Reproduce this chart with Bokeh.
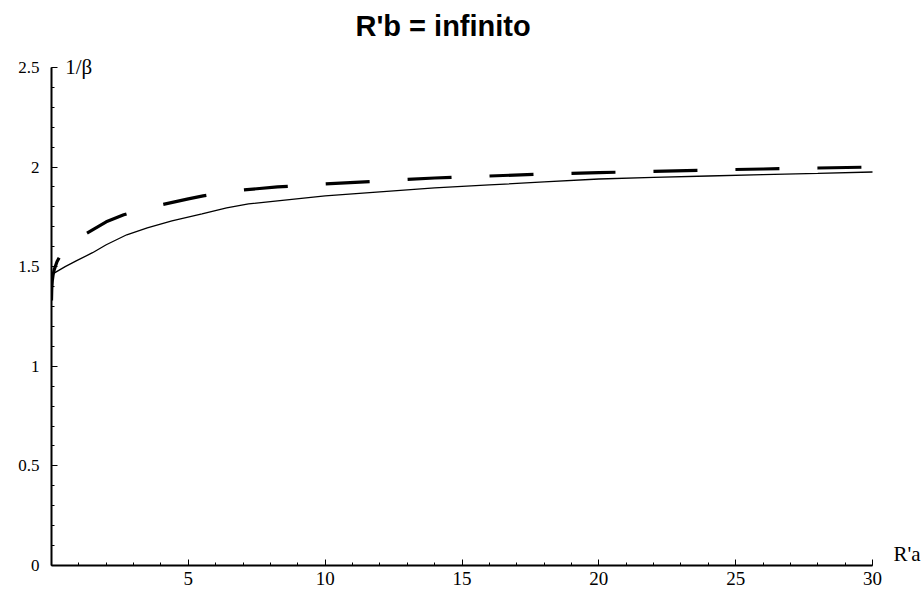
from bokeh.plotting import figure
from bokeh.models import Range1d, Label, FixedTicker
from bokeh.embed import file_html
from bokeh.resources import INLINE

# R'a values and 1/beta for the two curves
ra_solid = [0, 0.25, 0.5, 0.92, 1.5, 2.0, 2.75, 3.5, 4.4, 5.5, 6.4, 7.2, 8.26,
            10, 12, 14, 16, 18, 20, 22, 24, 26, 28, 30]
inv_beta_solid = [1.46, 1.48, 1.50, 1.53, 1.57, 1.61, 1.66, 1.695, 1.73, 1.765, 1.795,
                  1.815, 1.83, 1.855, 1.875, 1.895, 1.91, 1.925, 1.94, 1.948, 1.955,
                  1.962, 1.968, 1.975]

ra_dashed = [0, 0.01, 0.03, 0.06, 0.1, 0.2, 0.3, 0.5, 0.75, 1.0, 1.25, 1.5, 2.0,
             2.64, 3.0, 4.0, 5.0, 5.54, 6.0, 7.0, 8.26, 10, 12, 14, 16, 18, 20,
             22, 24, 26, 28, 30]
inv_beta_dashed = [1.33, 1.39, 1.43, 1.46, 1.485, 1.525, 1.55, 1.59, 1.625, 1.648,
                   1.665, 1.685, 1.725, 1.76, 1.775, 1.81, 1.84, 1.855, 1.865, 1.885,
                   1.90, 1.915, 1.93, 1.945, 1.955, 1.965, 1.972, 1.978, 1.985, 1.99,
                   1.995, 2.0]

x_ticks = [5, 10, 15, 20, 25, 30]
y_ticks = [0, 0.5, 1, 1.5, 2, 2.5]
y_tick_labels = ["0", "0.5", "1", "1.5", "2", "2.5"]
x_minor = list(range(0, 31))
y_minor = [i / 10 for i in range(0, 26)]

title_text = "R'b = infinito"
y_label_text = "1/\u03b2"
x_label_text = "R'a"

p = figure(width=924, height=595, output_backend="svg", toolbar_location=None,
           x_range=Range1d(0, 31.9), y_range=Range1d(0, 2.62),
           min_border_left=51, min_border_right=0, min_border_top=43,
           min_border_bottom=30, title=title_text)
p.title.align = "left"
p.title.offset = 304
p.title.text_font = "Liberation Sans"
p.title.text_font_size = "29px"
p.title.text_font_style = "bold"
p.title.text_color = "black"
p.title.standoff = 4

p.outline_line_color = None
p.xgrid.visible = False
p.ygrid.visible = False
p.background_fill_color = "white"
p.border_fill_color = "white"

for ax in (p.xaxis[0], p.yaxis[0]):
    ax.axis_line_width = 2
    ax.axis_line_color = "black"
    ax.major_tick_in = 6
    ax.major_tick_out = 0
    ax.minor_tick_in = 3
    ax.minor_tick_out = 0
    ax.major_tick_line_color = "black"
    ax.minor_tick_line_color = "black"
    ax.major_label_text_font = "Liberation Serif"
    ax.major_label_text_color = "black"

p.xaxis[0].bounds = (0, 30)
p.yaxis[0].bounds = (0, 2.5)
p.xaxis[0].ticker = FixedTicker(ticks=x_ticks, minor_ticks=x_minor)
p.xaxis[0].major_label_text_font_size = "19px"
p.xaxis[0].major_label_standoff = 6
p.yaxis[0].ticker = FixedTicker(ticks=y_ticks, minor_ticks=y_minor)
p.yaxis[0].major_label_overrides = {t: s for t, s in zip(y_ticks, y_tick_labels)}
p.yaxis[0].major_label_text_font_size = "17px"
p.yaxis[0].major_label_standoff = 12

p.line(ra_solid, inv_beta_solid, line_color="black", line_width=1.3)
p.line(ra_dashed, inv_beta_dashed, line_color="black", line_width=3.2,
       line_dash="44 38")

p.add_layout(Label(x=0.5, y=2.5, text=y_label_text, text_font="Liberation Serif",
                   text_font_size="21px", text_baseline="middle", text_align="left",
                   text_color="black"))
p.add_layout(Label(x=30, y=0, x_offset=21, y_offset=0, text=x_label_text,
                   text_font="Liberation Serif", text_font_size="21px",
                   text_baseline="bottom", text_align="left", text_color="black"))

open("out.html", "w").write(file_html(p, INLINE))
